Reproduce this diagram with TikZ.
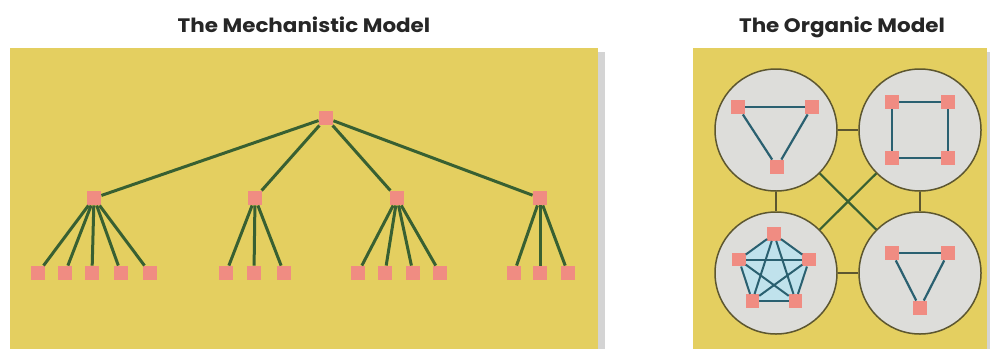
\documentclass[tikz,border=0pt]{standalone}
\usepackage{graphicx}
\usepackage{fontspec}
\setsansfont{Poppins}
\definecolor{panelyellow}{RGB}{228,207,96}
\definecolor{nodepink}{RGB}{240,140,130}
\definecolor{treegreen}{RGB}{56,96,50}
\definecolor{circfill}{RGB}{221,221,218}
\definecolor{circline}{RGB}{92,86,48}
\definecolor{tealedge}{RGB}{42,96,112}
\definecolor{paleblue}{RGB}{192,226,236}
\definecolor{shadowgray}{RGB}{170,170,170}
\tikzset{
  sq/.style={rectangle,fill=nodepink,minimum size=14.5pt,inner sep=0pt},
  sqs/.style={rectangle,fill=nodepink,minimum size=13.5pt,inner sep=0pt},
  treeline/.style={draw=treegreen,line width=3pt},
  unit/.style={circle,draw=circline,line width=1.5pt,fill=circfill,minimum size=122pt,inner sep=0pt},
  link/.style={draw=circline,line width=1.6pt},
  crossline/.style={draw=treegreen,line width=2.2pt},
  inner/.style={draw=tealedge,line width=2.2pt},
  title/.style={font=\sffamily\bfseries\fontsize{19.5}{19.5}\selectfont,anchor=base,text=black!85}
}
\begin{document}
\begin{tikzpicture}[x=1pt,y=-1pt]
\useasboundingbox (0,0) rectangle (990,349);
\fill[white] (0,0) rectangle (990,349);
% titles
\node[title] (t1) at (304,32) {\scalebox{1.1}[1]{The Mechanistic Model}};
\node[title] (t2) at (842,32) {\scalebox{1.1}[1]{The Organic Model}};
% panels with shadows
\fill[shadowgray,opacity=0.5] (14,52) rectangle (605,349);
\fill[panelyellow] (10,48) rectangle (598,349);
\fill[shadowgray,opacity=0.5] (697,52) rectangle (990,349);
\fill[panelyellow] (693,48) rectangle (987,349);
% ---------- mechanistic tree ----------
\node[sq] (r) at (326,118) {};
\node[sq] (a) at (94,198) {};
\node[sq] (b) at (255,198) {};
\node[sq] (c) at (397,198) {};
\node[sq] (d) at (540,198) {};
\foreach \n/\x in {a1/38,a2/65,a3/92,a4/121,a5/150,
                  b1/226,b2/254,b3/284,
                  c1/358,c2/385,c3/413,c4/440,
                  d1/514,d2/540,d3/568}
  \node[sq] (\n) at (\x,273) {};
\foreach \p in {a,b,c,d} \draw[treeline] (r) -- (\p);
\foreach \n in {a1,a2,a3,a4,a5} \draw[treeline] (a) -- (\n);
\foreach \n in {b1,b2,b3} \draw[treeline] (b) -- (\n);
\foreach \n in {c1,c2,c3,c4} \draw[treeline] (c) -- (\n);
\foreach \n in {d1,d2,d3} \draw[treeline] (d) -- (\n);
% ---------- organic model ----------
\node[unit] (u1) at (776,130) {};
\node[unit] (u2) at (920,130) {};
\node[unit] (u3) at (776,273) {};
\node[unit] (u4) at (920,273) {};
\draw[link] (u1) -- (u2);
\draw[link] (u3) -- (u4);
\draw[link] (u1) -- (u3);
\draw[link] (u2) -- (u4);
\draw[crossline] (u1) -- (u4);
\draw[crossline] (u2) -- (u3);
% triangle top-left
\node[sq] (ta) at (738,107) {};
\node[sq] (tb) at (812,107) {};
\node[sq] (tc) at (777,167) {};
\draw[inner] (ta) -- (tb);
\draw[inner] (tb) -- (tc);
\draw[inner] (tc) -- (ta);
% square top-right
\node[sq] (qa) at (892,102) {};
\node[sq] (qb) at (948,102) {};
\node[sq] (qc) at (948,158) {};
\node[sq] (qd) at (892,158) {};
\draw[inner] (qa) -- (qb);
\draw[inner] (qb) -- (qc);
\draw[inner] (qc) -- (qd);
\draw[inner] (qd) -- (qa);
% pentagon bottom-left
\coordinate (c1) at (774,234);
\coordinate (c2) at (809.2,259.6);
\coordinate (c3) at (795.7,300.9);
\coordinate (c4) at (752.3,300.9);
\coordinate (c5) at (738.8,259.6);
\fill[paleblue] (c1) -- (c2) -- (c3) -- (c4) -- (c5) -- cycle;
\node[sqs] (p1) at (c1) {};
\node[sqs] (p2) at (c2) {};
\node[sqs] (p3) at (c3) {};
\node[sqs] (p4) at (c4) {};
\node[sqs] (p5) at (c5) {};
\draw[inner,line width=2pt] (p1) -- (p2);
\draw[inner,line width=2pt] (p2) -- (p3);
\draw[inner,line width=2pt] (p3) -- (p4);
\draw[inner,line width=2pt] (p4) -- (p5);
\draw[inner,line width=2pt] (p5) -- (p1);
\draw[inner,line width=2pt] (p1) -- (p3);
\draw[inner,line width=2pt] (p1) -- (p4);
\draw[inner,line width=2pt] (p2) -- (p4);
\draw[inner,line width=2pt] (p2) -- (p5);
\draw[inner,line width=2pt] (p3) -- (p5);
% triangle bottom-right
\node[sq] (ba) at (892,253) {};
\node[sq] (bb) at (948,253) {};
\node[sq] (bc) at (920,308) {};
\draw[inner] (ba) -- (bb);
\draw[inner] (bb) -- (bc);
\draw[inner] (bc) -- (ba);
\end{tikzpicture}
\end{document}
